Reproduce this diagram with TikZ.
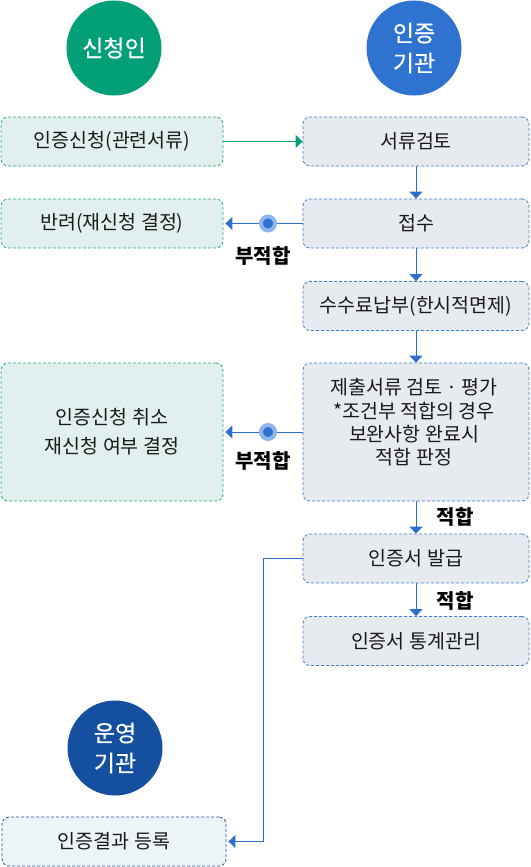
\documentclass[tikz,border=0pt]{standalone}
\usepackage{fontspec}
\setmainfont{Noto Sans CJK KR}
\newfontfamily\rolefont{Noto Sans CJK KR}[FakeBold=0.5]
\usetikzlibrary{arrows.meta}

\definecolor{applygreen}{HTML}{03A078}
\definecolor{certblue}{HTML}{2F73D1}
\definecolor{operblue}{HTML}{154F9F}
\definecolor{greenedge}{HTML}{2BAA85}
\definecolor{blueedge}{HTML}{3C7FDC}
\definecolor{darkedge}{HTML}{2A56A0}
\definecolor{greenfill}{HTML}{E1EFEE}
\definecolor{bluefill}{HTML}{E7EBEF}
\definecolor{lightfill}{HTML}{ECF4F8}
\definecolor{flowblue}{HTML}{2D6FCF}
\definecolor{dotlight}{HTML}{8FB5EC}
\definecolor{inktext}{HTML}{1A1A1A}

\tikzset{
    role/.style={circle, minimum size=95pt, inner sep=0pt, text=white, align=center, font=\rolefont\fontsize{23}{30}\selectfont},
    stagebox/.style={rounded corners=7pt, dashed, dash pattern=on 3pt off 2pt, line width=0.8pt, minimum height=49pt, inner sep=0pt, text=inktext, align=center, font=\fontsize{19.5}{23.3}\selectfont},
    applybox/.style={stagebox, draw=greenedge, fill=greenfill, minimum width=222pt},
    certbox/.style={stagebox, draw=blueedge, fill=bluefill, minimum width=226pt},
    operbox/.style={stagebox, draw=darkedge, fill=lightfill, minimum width=224pt},
    flowline/.style={draw=flowblue, line width=1pt, -{Triangle[width=13pt,length=7pt]}},
    failmark/.style={circle, fill=flowblue, draw=dotlight, line width=4pt, minimum size=14pt, inner sep=0pt},
    verdict/.style={text=black, font=\fontsize{20}{22}\selectfont\bfseries}
}

\begin{document}
\begin{tikzpicture}[x=1pt, y=1pt]
    \useasboundingbox (0,0) rectangle (530,-867);
    % roles
    \node[role, fill=applygreen] (applicant) at (114,-48) {신청인};
    \node[role, fill=certblue] (certifier) at (414,-48) {인증\\기관};
    \node[role, fill=operblue] (operator) at (115,-748) {운영\\기관};
    % boxes
    \node[applybox] (apply) at (112,-141.5) {인증신청(관련서류)};
    \node[certbox] (doccheck) at (416,-141.5) {서류검토};
    \node[applybox] (returned) at (112,-223.5) {반려(재신청 결정)};
    \node[certbox] (accept) at (416,-223.5) {접수};
    \node[certbox] (fee) at (416,-306) {수수료납부(한시적면제)};
    \node[certbox, minimum height=138pt] (evaluate) at (416,-432) {};
    \node[text=inktext, align=center, font=\fontsize{19.5}{23.3}\selectfont] (evaltext) at (414,-422.5) {제출서류 검토 · 평가\\*조건부 적합의 경우\\보완사항 완료시\\적합 판정};
    \node[applybox, minimum height=138pt, font=\fontsize{19.5}{29}\selectfont] (cancel) at (112,-432) {인증신청 취소\\재신청 여부 결정};
    \node[certbox] (issue) at (416,-558.5) {인증서 발급};
    \node[certbox] (stats) at (416,-641) {인증서 통계관리};
    \node[operbox] (register) at (114,-841.5) {인증결과 등록};
    % flow
    \draw[flowline, draw=applygreen, applygreen] (apply.east) -- (doccheck.west);
    \draw[flowline, flowblue] (doccheck.south) -- (accept.north);
    \draw[flowline, flowblue] (accept.south) -- (fee.north);
    \draw[flowline, flowblue] (fee.south) -- (evaluate.north);
    \draw[flowline, flowblue] (evaluate.south) -- (issue.north);
    \draw[flowline, flowblue] (issue.south) -- (stats.north);
    \draw[flowline, flowblue, shorten >=2pt] (accept.west) -- (returned.east);
    \draw[flowline, flowblue, shorten >=2pt] (evaluate.west) -- (cancel.east);
    \coordinate (bend) at (263,-558.5);
    \draw[flowline, flowblue, shorten >=2pt] (issue.west) -- (bend) |- (register.east);
    \node[failmark] (dot1) at (268,-223.5) {};
    \node[failmark] (dot2) at (268,-432) {};
    % verdicts
    \node[verdict] (fail1) at (263,-256) {부적합};
    \node[verdict] (fail2) at (263,-461) {부적합};
    \node[verdict] (pass1) at (455,-517) {적합};
    \node[verdict] (pass2) at (455,-601) {적합};
\end{tikzpicture}
\end{document}
